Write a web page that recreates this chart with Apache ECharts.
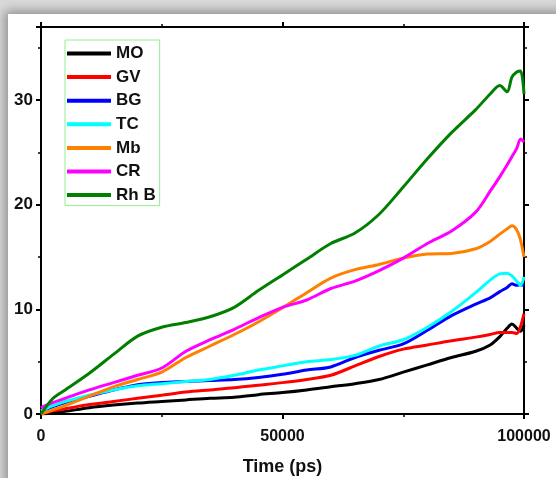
<!DOCTYPE html>
<html>
<head>
<meta charset="utf-8">
<script src="https://cdn.jsdelivr.net/npm/echarts@6/dist/echarts.min.js"></script>
<style>
  html, body { margin: 0; padding: 0; background: #d9d9d9; }
  .panel { position: absolute; left: 8px; top: 14px; width: 570px; height: 490px; background: #fff;
    box-shadow: 0 0 10px 3px rgba(0,0,0,0.35); }
  #main { position: absolute; left: 0; top: 0; width: 556px; height: 478px; }
</style>
</head>
<body>
<div class="panel"></div>
<div id="main"></div>
<script>
  // time axis (ps)
  var time = [0, 2500, 5000, 10000, 15000, 20000, 25000, 30000, 35000, 40000, 45000, 50000, 55000, 60000,
    65000, 70000, 75000, 80000, 85000, 90000, 93000, 95000, 96500, 97500, 98500, 99300, 100000]

  var mo = [0, 0.1, 0.25, 0.6, 0.85, 1.05, 1.2, 1.35, 1.5, 1.6, 1.85, 2.05, 2.3, 2.6,
    2.9, 3.3, 4.0, 4.7, 5.4, 6.0, 6.6, 7.4, 8.2, 8.6, 8.2, 7.9, 8.5]
  var gv = [0, 0.3, 0.5, 0.9, 1.2, 1.5, 1.8, 2.1, 2.3, 2.5, 2.75, 3.0, 3.3, 3.7,
    4.6, 5.5, 6.2, 6.6, 7.0, 7.35, 7.6, 7.8, 7.8, 7.8, 7.7, 8.4, 9.6]
  var bg = [0.3, 0.7, 1.1, 1.7, 2.3, 2.8, 3.0, 3.1, 3.2, 3.3, 3.5, 3.8, 4.2, 4.5,
    5.4, 6.1, 6.7, 8.0, 9.4, 10.5, 11.1, 11.7, 12.1, 12.45, 12.3, 12.35, 12.3]
  var tc = [0.3, 0.8, 1.2, 1.8, 2.3, 2.7, 2.9, 3.1, 3.3, 3.7, 4.2, 4.6, 5.0, 5.2,
    5.6, 6.5, 7.1, 8.3, 9.8, 11.6, 12.8, 13.4, 13.45, 13.2, 12.7, 12.3, 13.1]
  var mb = [0, 0.4, 0.8, 1.7, 2.6, 3.3, 4.0, 5.4, 6.5, 7.6, 8.8, 10.15, 11.6, 13.0,
    13.8, 14.3, 14.9, 15.3, 15.35, 15.8, 16.5, 17.2, 17.7, 18.0, 17.6, 16.6, 15.0]
  var cr = [0.6, 1.1, 1.5, 2.3, 3.0, 3.7, 4.4, 6.0, 7.1, 8.1, 9.2, 10.2, 10.9, 12.0,
    12.7, 13.7, 14.9, 16.3, 17.5, 19.3, 21.3, 22.7, 23.8, 24.6, 25.4, 26.3, 26.0]
  var rhb = [0, 1.5, 2.3, 3.9, 5.7, 7.45, 8.3, 8.75, 9.3, 10.2, 11.8, 13.3, 14.8, 16.3,
    17.3, 19.1, 21.7, 24.4, 26.9, 29.1, 30.6, 31.4, 30.8, 32.2, 32.7, 32.8, 30.6]

  var names = ['MO', 'GV', 'BG', 'TC', 'Mb', 'CR', 'Rh B']
  var colors = ['#000000', '#ff0000', '#0000ff', '#00ffff', '#ff8000', '#ff00ff', '#007f00']
  var values = [mo, gv, bg, tc, mb, cr, rhb]

  var font = 'Liberation Sans, Arial, sans-serif'

  function pairs (ys) {
    return ys.map(function (y, i) { return [time[i], y] })
  }

  var chart = echarts.init(document.getElementById('main'), null, { renderer: 'canvas' })

  var axisLine = { show: true, onZero: false, lineStyle: { color: '#000', width: 2 } }
  var tick = { show: true, length: 5, lineStyle: { width: 2, color: '#000' } }
  var minor = { show: true, splitNumber: 2, length: 3, lineStyle: { width: 1.5, color: '#000' } }

  var option = {
    backgroundColor: 'transparent',
    animation: false,
    grid: { left: 41, top: 27, width: 483, height: 387, outerBoundsMode: 'none', containLabel: false },
    legend: {
      orient: 'vertical',
      left: 65,
      top: 40,
      padding: [5, 4, 2, 2],
      icon: 'path://M0,0h44v4h-44z',
      itemWidth: 44,
      itemHeight: 4,
      itemGap: 6.6,
      borderColor: '#90ee90',
      borderWidth: 1,
      textStyle: { fontFamily: font, fontWeight: 'bold', fontSize: 17, color: '#111' },
      data: names
    },
    xAxis: [{
      type: 'value',
      min: 0,
      max: 100000,
      interval: 50000,
      name: 'Time (ps)',
      nameLocation: 'middle',
      nameGap: 44,
      nameTextStyle: { fontFamily: font, fontWeight: 'bold', fontSize: 18, color: '#111' },
      axisLine: axisLine,
      axisTick: tick,
      minorTick: minor,
      axisLabel: {
        fontFamily: font, fontWeight: 'bold', fontSize: 16, color: '#111', margin: 15,
        formatter: function (v) { return String(v) }
      },
      splitLine: { show: false }
    }, {
      type: 'value',
      position: 'top',
      min: 0,
      max: 100000,
      interval: 50000,
      axisLine: axisLine,
      axisTick: tick,
      minorTick: minor,
      axisLabel: { show: false },
      splitLine: { show: false }
    }],
    yAxis: [{
      type: 'value',
      min: 0,
      max: 37,
      interval: 10,
      axisLine: axisLine,
      axisTick: tick,
      minorTick: minor,
      axisLabel: {
        fontFamily: font, fontWeight: 'bold', fontSize: 17, color: '#111', margin: 8,
        formatter: function (v) { return v % 10 === 0 ? String(v) : '' }
      },
      splitLine: { show: false }
    }, {
      type: 'value',
      position: 'right',
      min: 0,
      max: 37,
      interval: 10,
      axisLine: axisLine,
      axisTick: tick,
      minorTick: minor,
      axisLabel: { show: false },
      splitLine: { show: false }
    }],
    series: names.map(function (n, i) {
      return {
        name: n,
        type: 'line',
        xAxisIndex: 0,
        yAxisIndex: 0,
        data: pairs(values[i]),
        showSymbol: false,
        symbol: 'none',
        smooth: 0.3,
        color: colors[i],
        lineStyle: { width: 3, color: colors[i] }
      }
    })
  }

  chart.setOption(option)
</script>
</body>
</html>
